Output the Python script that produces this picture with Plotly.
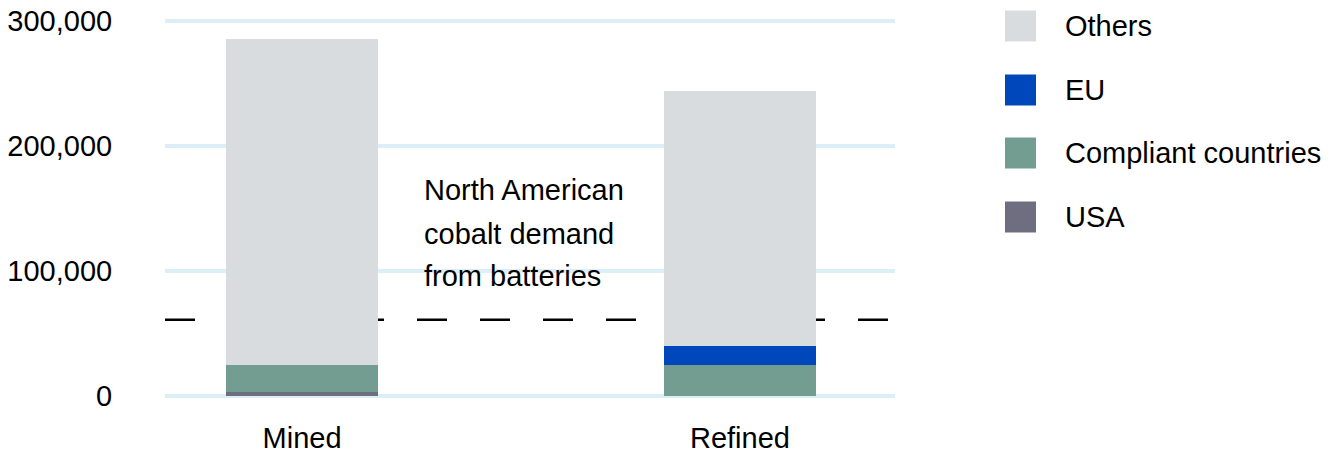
import plotly.graph_objects as go

categories = ["Mined", "Refined"]
usa = [3500, 0]
compliant = [21300, 24800]
eu = [0, 15200]
others = [260800, 204000]
na_demand = 61000

series_names = ["USA", "Compliant countries", "EU", "Others"]
series_values = [usa, compliant, eu, others]
colors = {"USA": "#6e6e80", "Compliant countries": "#749d91", "EU": "#0047bb", "Others": "#d8dcdf"}
y_ticks = [0, 100000, 200000, 300000]
y_tick_labels = ["0", "100,000", "200,000", "300,000"]
annotation_lines = ["North American", "cobalt demand", "from batteries"]

FONT = "Liberation Sans, Arial, Helvetica, sans-serif"
FS = 29
fig = go.Figure()
for name, vals in zip(series_names, series_values):
    fig.add_trace(go.Bar(x=categories, y=vals, name=name, marker=dict(color=colors[name], line=dict(width=0)),
                         width=0.347, showlegend=False))

# dashed demand line (behind bars)
fig.add_shape(type="line", xref="paper", x0=0, x1=1, yref="y", y0=na_demand, y1=na_demand,
              line=dict(color="black", width=2.5, dash="30px,33px"), layer="below")

# annotation text
ann_y = [164800, 129600, 96000]
for txt, yy in zip(annotation_lines, ann_y):
    fig.add_annotation(x=(424 - 165) / 730, xref="paper", y=yy, yref="y", text=txt, showarrow=False,
                       xanchor="left", yanchor="middle", xshift=-2,
                       font=dict(size=FS, color="black", family=FONT))

# manual legend
legend_order = ["Others", "EU", "Compliant countries", "USA"]
leg_y = [26, 90, 153, 217]
for name, py in zip(legend_order, leg_y):
    fig.add_shape(type="rect", xref="paper", yref="paper",
                  x0=(1005 - 165) / 730, x1=(1036 - 165) / 730,
                  y0=1 - (py + 15.5 - 16) / 385, y1=1 - (py - 15.5 - 16) / 385,
                  fillcolor=colors[name], line=dict(width=0))
    fig.add_annotation(xref="paper", yref="paper", x=(1065 - 165) / 730, y=1 - (py - 16) / 385,
                       text=name, showarrow=False, xanchor="left", yanchor="middle", xshift=-2,
                       font=dict(size=FS, color="black", family=FONT))

fig.update_layout(
    barmode="stack",
    width=1343, height=454,
    margin=dict(l=165, r=448, t=16, b=53, autoexpand=False),
    plot_bgcolor="white", paper_bgcolor="white",
    font=dict(family=FONT, size=FS, color="black"),
    bargap=0,
)
fig.update_xaxes(range=[-0.313, 1.354], showgrid=False, showline=False, zeroline=False, automargin=False,
                 ticks="outside", ticklen=11, tickcolor="rgba(0,0,0,0)",
                 tickfont=dict(size=FS, family=FONT, color="black"))
fig.update_yaxes(range=[-4000, 304000], tickvals=y_ticks, ticktext=y_tick_labels, automargin=False,
                 showgrid=True, gridcolor="#dceff9", gridwidth=4, zeroline=False, showline=False,
                 ticks="outside", ticklen=46, tickcolor="rgba(0,0,0,0)",
                 tickfont=dict(size=FS, family=FONT, color="black"))

fig.write_html("out.html")
